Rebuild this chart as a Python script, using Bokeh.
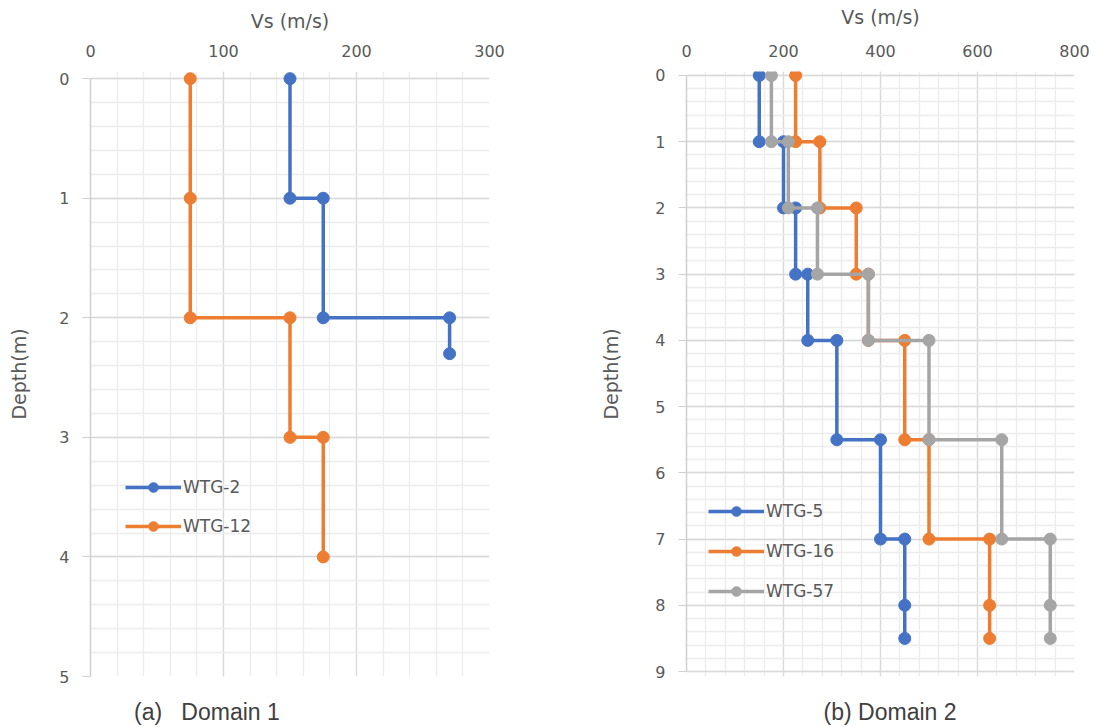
from bokeh.plotting import figure
from bokeh.layouts import row
from bokeh.models import (Range1d, SingleIntervalTicker, FixedTicker, Legend,
                          LegendItem, LinearAxis)
from bokeh.embed import file_html
from bokeh.resources import INLINE

# ---- Domain 1 shear-wave velocity profiles ----
d1_names = ["WTG-2", "WTG-12"]
wtg2_vs = [150, 150, 175, 175, 270, 270]
wtg2_depth = [0, 1, 1, 2, 2, 2.3]
wtg12_vs = [75, 75, 75, 150, 150, 175, 175]
wtg12_depth = [0, 1, 2, 2, 3, 3, 4]

# ---- Domain 2 shear-wave velocity profiles ----
d2_names = ["WTG-5", "WTG-16", "WTG-57"]
d2_depth = [0, 1, 1, 2, 2, 3, 3, 4, 4, 5.5, 5.5, 7, 7, 8, 8.5]
wtg5_vs = [150, 150, 200, 200, 225, 225, 250, 250, 310, 310, 400, 400, 450, 450, 450]
wtg16_vs = [225, 225, 275, 275, 350, 350, 375, 375, 450, 450, 500, 500, 625, 625, 625]
wtg57_vs = [175, 175, 210, 210, 270, 270, 375, 375, 500, 500, 650, 650, 750, 750, 750]

BLUE, ORANGE, GREY = "#4472C4", "#ED7D31", "#A5A5A5"
TEXT = "#595959"
FONT = "DejaVu Sans"
NBSP = "\u00a0"


def make_panel(width, x_max, x_step, y_max, y_lo, y_hi, border_left,
               border_right, x_label_standoff, y_label_standoff):
    # the y range runs a little past 0 / the last depth so end markers are not cut
    p = figure(width=width, height=727, output_backend="svg", toolbar_location=None,
               x_axis_location="above",
               x_range=Range1d(0, x_max), y_range=Range1d(y_hi, y_lo),
               min_border_left=border_left, min_border_right=border_right,
               min_border_top=71, min_border_bottom=50)
    p.outline_line_color = None
    p.background_fill_color = "white"
    p.border_fill_color = "white"

    xt = SingleIntervalTicker(interval=x_step, num_minor_ticks=5)
    yt = SingleIntervalTicker(interval=1, num_minor_ticks=5)
    p.xaxis.ticker = xt
    p.yaxis.ticker = yt
    p.xgrid.ticker = xt
    p.ygrid.ticker = yt

    for g in (p.xgrid[0], p.ygrid[0]):
        g.grid_line_color = "#d9d9d9"
        g.grid_line_width = 1.3
        g.minor_grid_line_color = "#ececec"
        g.minor_grid_line_width = 1.3

    p.xaxis.axis_label = "Vs (m/s)"
    p.yaxis.axis_label = "Depth(m)"
    for ax in (p.xaxis[0], p.yaxis[0]):
        ax.axis_label_text_font = FONT
        ax.axis_label_text_font_style = "normal"
        ax.axis_label_text_color = TEXT
        ax.axis_label_text_font_size = "19px"
        ax.major_label_text_font = FONT
        ax.major_label_text_color = TEXT
        ax.major_label_text_font_size = "16px"
        ax.minor_tick_line_color = None
        ax.major_tick_in = 0

    p.xaxis.axis_line_color = None
    p.xaxis.major_tick_line_color = None
    p.xaxis.major_tick_out = 0
    p.xaxis.major_label_standoff = 11
    p.xaxis.axis_label_standoff = x_label_standoff

    p.yaxis.bounds = (0, y_max)
    p.yaxis.axis_line_color = "#d0d0d0"
    p.yaxis.axis_line_width = 1.5
    p.yaxis.major_tick_line_color = "#d0d0d0"
    p.yaxis.major_tick_out = 8
    p.yaxis.major_label_standoff = 13
    p.yaxis.axis_label_standoff = y_label_standoff
    return p


def add_caption(p, text):
    # panel caption drawn as the label of a bare axis under the frame
    cap = LinearAxis(ticker=FixedTicker(ticks=[]), axis_label=text,
                     axis_line_color=None, major_tick_line_color=None,
                     minor_tick_line_color=None, major_tick_out=0, major_tick_in=0,
                     major_label_standoff=0, axis_label_standoff=22,
                     axis_label_text_font="Liberation Sans",
                     axis_label_text_font_size="23px",
                     axis_label_text_font_style="normal",
                     axis_label_text_color="#404040")
    p.add_layout(cap, "below")


def add_series(p, xs, ys, color):
    r_line = p.line(xs, ys, line_color=color, line_width=3.5, line_join="round")
    r_dot = p.scatter(xs, ys, marker="circle", size=12, fill_color=color,
                      line_color=color)
    return [r_line, r_dot]


def add_legend(p, items, loc, spacing):
    leg = Legend(items=items, location=loc, orientation="vertical",
                 border_line_color=None, background_fill_alpha=0,
                 label_text_font=FONT, label_text_color=TEXT,
                 label_text_font_size="17px", glyph_width=56, glyph_height=24,
                 label_height=24, label_standoff=2, spacing=spacing,
                 padding=0, margin=0)
    p.add_layout(leg)


# Panel (a)
p1 = make_panel(548, 300, 100, 5, -0.06, 5.0, 90, 59, 10, 26)
r_a = add_series(p1, wtg2_vs, wtg2_depth, BLUE)
r_b = add_series(p1, wtg12_vs, wtg12_depth, ORANGE)
add_legend(p1, [LegendItem(label=d1_names[0], renderers=r_a),
                LegendItem(label=d1_names[1], renderers=r_b)], (35, 138), 15)
add_caption(p1, "(a)" + NBSP * 3 + "Domain 1" + NBSP * 26)

# Panel (b)
p2 = make_panel(549, 800, 200, 9, -0.06, 9.075, 138, 23, 14, 30)
r5 = add_series(p2, wtg5_vs, d2_depth, BLUE)
r16 = add_series(p2, wtg16_vs, d2_depth, ORANGE)
r57 = add_series(p2, wtg57_vs, d2_depth, GREY)
add_legend(p2, [LegendItem(label=d2_names[0], renderers=r5),
                LegendItem(label=d2_names[1], renderers=r16),
                LegendItem(label=d2_names[2], renderers=r57)], (22, 73), 16)
add_caption(p2, NBSP * 3 + "(b) Domain 2")

layout = row(p1, p2)
open("out.html", "w").write(file_html(layout, INLINE))
